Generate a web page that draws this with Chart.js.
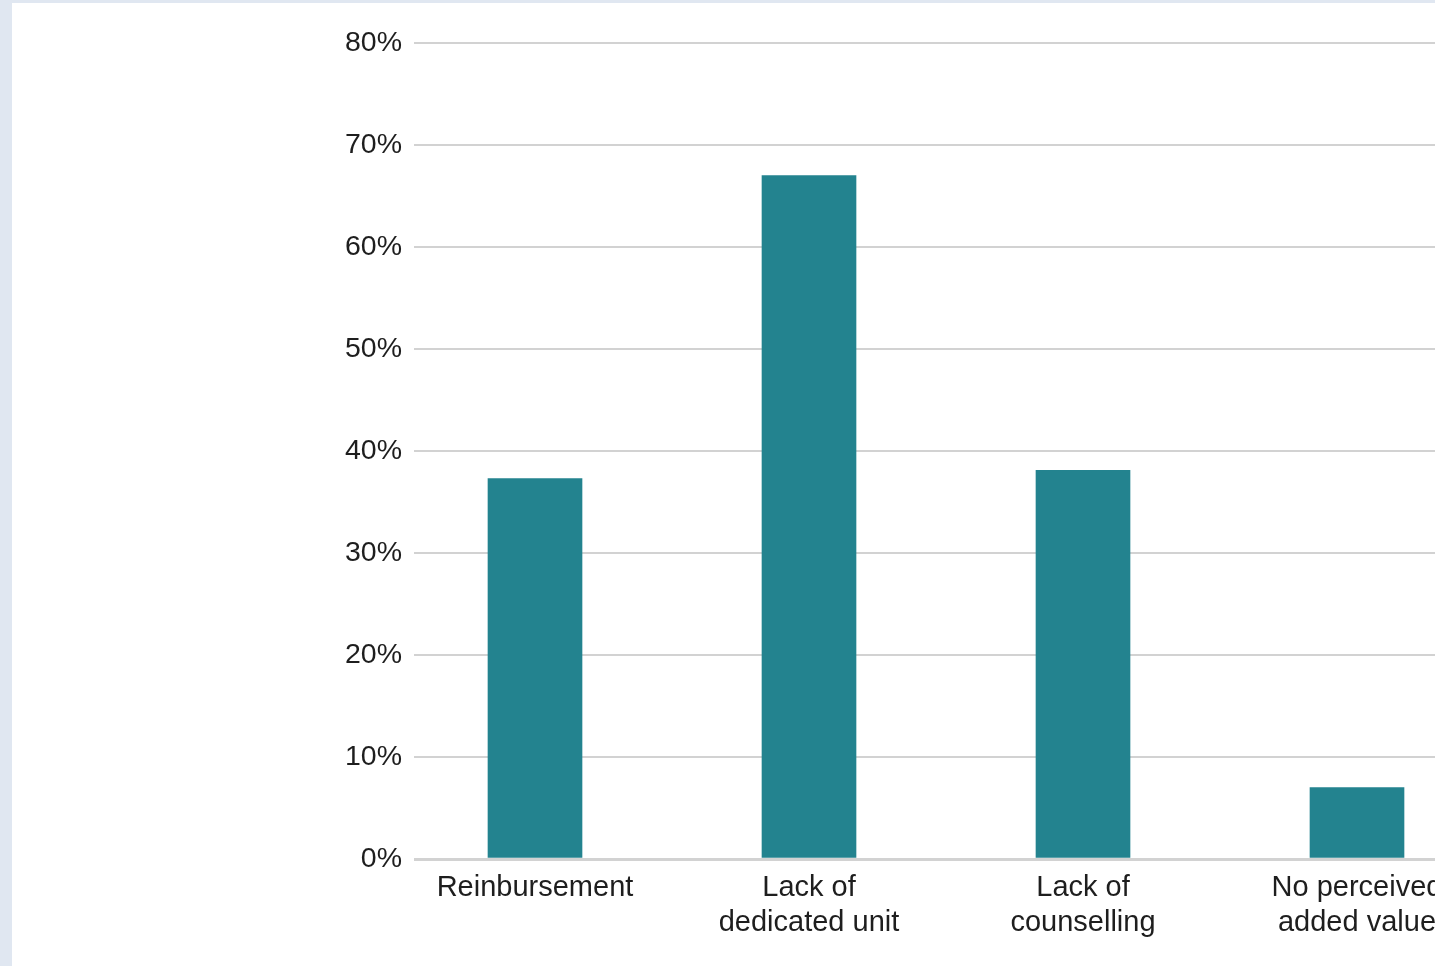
<!DOCTYPE html>
<html>
<head>
<meta charset="utf-8">
<script src="https://cdn.jsdelivr.net/npm/chart.js@4/dist/chart.umd.min.js"></script>
<style>
  html, body { margin: 0; padding: 0; overflow: hidden; background: #e0e7f1; }
  #wrap { position: absolute; left: 12px; top: 3px; width: 1466px; height: 963px; background: #fff; }
  canvas { display: block; }
</style>
</head>
<body>
<div id="wrap"><canvas id="bar" width="1466" height="963"></canvas></div>
<script>
// reasons given, share of respondents (%)
var categories = [
	["Reinbursement"],
	["Lack of", "dedicated unit"],
	["Lack of", "counselling"],
	["No perceived", "added value"],
];
var shares = [37.3, 67, 38.1, 7];
var yTicks = [0, 10, 20, 30, 40, 50, 60, 70, 80];

var barColor = "#23838f";
var gridColor = "#d2d2d2";
var textColor = "#1e1e1e";
var fontFamily = "'Liberation Sans', Arial, sans-serif";

var points = shares.map(function (v, i) {
	return { x: i, y: v };
});

var barChart = new Chart(document.getElementById("bar"), {
	type: "bar",
	data: {
		datasets: [
			{
				data: points,
				backgroundColor: barColor,
				borderWidth: 0,
				barThickness: 94,
			},
		],
	},
	options: {
		responsive: false,
		animation: false,
		layout: { padding: { top: 40, left: 0, right: 0, bottom: 0 } },
		plugins: { legend: { display: false }, tooltip: { enabled: false } },
		scales: {
			x: {
				type: "linear",
				offset: false,
				min: -0.4416,
				max: 3.4416,
				grid: { display: false, drawTicks: false, offset: false },
				border: { display: false },
				afterFit: function (s) {
					s.height = 107;
				},
				afterBuildTicks: function (s) {
					s.ticks = categories.map(function (c, i) {
						return { value: i };
					});
				},
				ticks: {
					autoSkip: false,
					maxRotation: 0,
					padding: 12,
					color: textColor,
					font: { family: fontFamily, size: 29, lineHeight: 1.2 },
					callback: function (v) {
						return categories[v];
					},
				},
			},
			y: {
				min: 0,
				max: 80,
				grid: {
					color: gridColor,
					lineWidth: function (c) {
						return c.tick && c.tick.value === 0 ? 3 : 2;
					},
					drawTicks: false,
				},
				border: { display: false },
				afterFit: function (s) {
					s.width = 402;
				},
				afterBuildTicks: function (s) {
					s.ticks = yTicks.map(function (v) {
						return { value: v };
					});
				},
				ticks: {
					padding: 12,
					color: textColor,
					font: { family: fontFamily, size: 28.5 },
					callback: function (v) {
						return v + "%";
					},
				},
			},
		},
	},
});
</script>
</body>
</html>
